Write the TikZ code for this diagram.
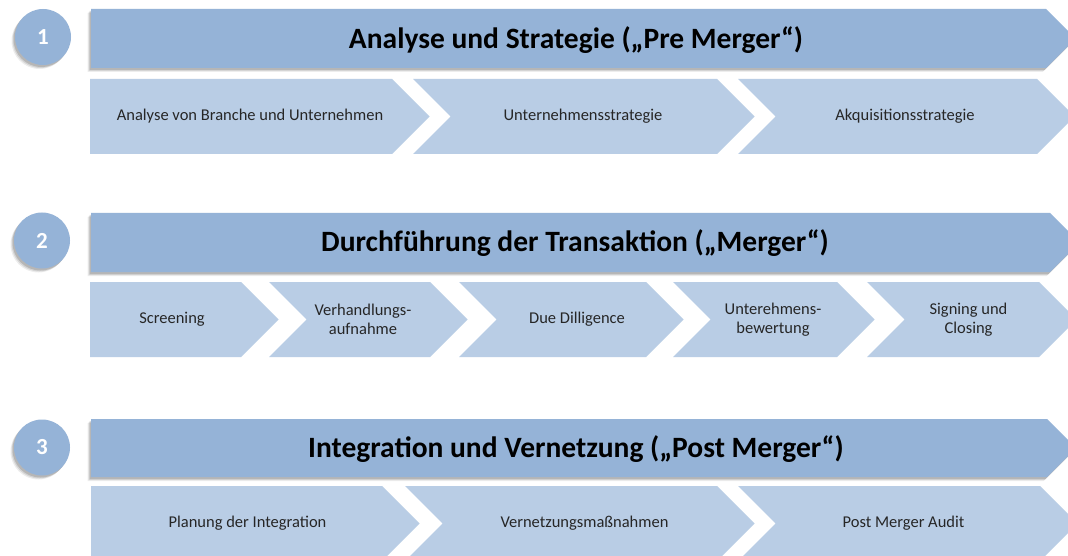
\documentclass[tikz,border=0pt]{standalone}
\usepackage{fontspec}
\setmainfont{Carlito}
\definecolor{hdr}{HTML}{95B3D7}
\definecolor{subc}{HTML}{B9CDE5}
\tikzset{
  softshadow/.style={
    preaction={fill=black,opacity=.07,transform canvas={shift={(-3.5pt,-4pt)}}},
    preaction={fill=black,opacity=.10,transform canvas={shift={(-2.5pt,-3pt)}}},
    preaction={fill=black,opacity=.14,transform canvas={shift={(-1.5pt,-2pt)}}}},
  hdrshape/.style={fill=hdr,softshadow},
  subshape/.style={fill=subc},
  numcirc/.style={circle,fill=hdr,minimum size=56pt,inner sep=0pt,text=white,
    font=\fontsize{23}{26}\selectfont\bfseries,softshadow},
  title/.style={font=\fontsize{29.5}{34}\selectfont\bfseries,text=black,inner sep=0pt},
  subtext/.style={font=\fontsize{16.5}{19}\selectfont,text=black!85,align=center,inner sep=0pt}
}
\begin{document}
\begin{tikzpicture}[x=1pt,y=-1pt]
\useasboundingbox (0,0) rectangle (1068,556);
\clip (0,0) rectangle (1068,556);
\fill[white] (0,0) rectangle (1068,556);

% ---------- Row 1 ----------
\path[hdrshape] (91,9) -- (1046,9) -- (1075.5,38.5) -- (1046,68) -- (91,68) -- cycle;
\node[numcirc] (n1) at (43,37) {1};
\node[title] (h1) at (576,40) {Analyse und Strategie („Pre Merger“)};
\fill[subshape] (90,79) -- (392,79) -- (429.5,116.5) -- (392,154) -- (90,154) -- cycle;
\fill[subshape] (413,79) -- (717,79) -- (754.5,116.5) -- (717,154) -- (413,154) -- (450.5,116.5) -- cycle;
\fill[subshape] (738,79) -- (1037,79) -- (1074.5,116.5) -- (1037,154) -- (738,154) -- (775.5,116.5) -- cycle;
\node[subtext] (s11) at (250,116.5) {Analyse von Branche und Unternehmen};
\node[subtext] (s12) at (583,116.5) {Unternehmensstrategie};
\node[subtext] (s13) at (905,116.5) {Akquisitionsstrategie};

% ---------- Row 2 ----------
\path[hdrshape] (91,213) -- (1050,213) -- (1079.5,242.5) -- (1050,272) -- (91,272) -- cycle;
\node[numcirc] (n2) at (42,240.5) {2};
\node[title] (h2) at (575,243) {Durchführung der Transaktion („Merger“)};
\fill[subshape] (90,282) -- (241,282) -- (278.5,319.5) -- (241,357) -- (90,357) -- cycle;
\fill[subshape] (269,282) -- (430,282) -- (467.5,319.5) -- (430,357) -- (269,357) -- (306.5,319.5) -- cycle;
\fill[subshape] (459,282) -- (646,282) -- (683.5,319.5) -- (646,357) -- (459,357) -- (496.5,319.5) -- cycle;
\fill[subshape] (673,282) -- (837,282) -- (874.5,319.5) -- (837,357) -- (673,357) -- (710.5,319.5) -- cycle;
\fill[subshape] (867,282) -- (1039,282) -- (1076.5,319.5) -- (1039,357) -- (867,357) -- (904.5,319.5) -- cycle;
\node[subtext] (s21) at (172,319.5) {Screening};
\node[subtext] (s22) at (363,319.5) {Verhandlungs-\\aufnahme};
\node[subtext] (s23) at (577,319.5) {Due Dilligence};
\node[subtext] (s24) at (773,319.5) {Unterehmens-\\bewertung};
\node[subtext] (s25) at (968.5,319.5) {Signing und\\Closing};

% ---------- Row 3 ----------
\path[hdrshape] (91,419) -- (1047,419) -- (1076,448) -- (1047,477) -- (91,477) -- cycle;
\node[numcirc] (n3) at (42,447.5) {3};
\node[title] (h3) at (576,449) {Integration und Vernetzung („Post Merger“)};
\fill[subshape] (91,486) -- (382,486) -- (419.5,523.5) -- (382,561) -- (91,561) -- cycle;
\fill[subshape] (405,486) -- (717,486) -- (754.5,523.5) -- (717,561) -- (405,561) -- (442.5,523.5) -- cycle;
\fill[subshape] (738,486) -- (1040,486) -- (1077.5,523.5) -- (1040,561) -- (738,561) -- (775.5,523.5) -- cycle;
\node[subtext] (s31) at (247.5,523.5) {Planung der Integration};
\node[subtext] (s32) at (584.5,523.5) {Vernetzungsmaßnahmen};
\node[subtext] (s33) at (903.5,523.5) {Post Merger Audit};
\end{tikzpicture}
\end{document}
